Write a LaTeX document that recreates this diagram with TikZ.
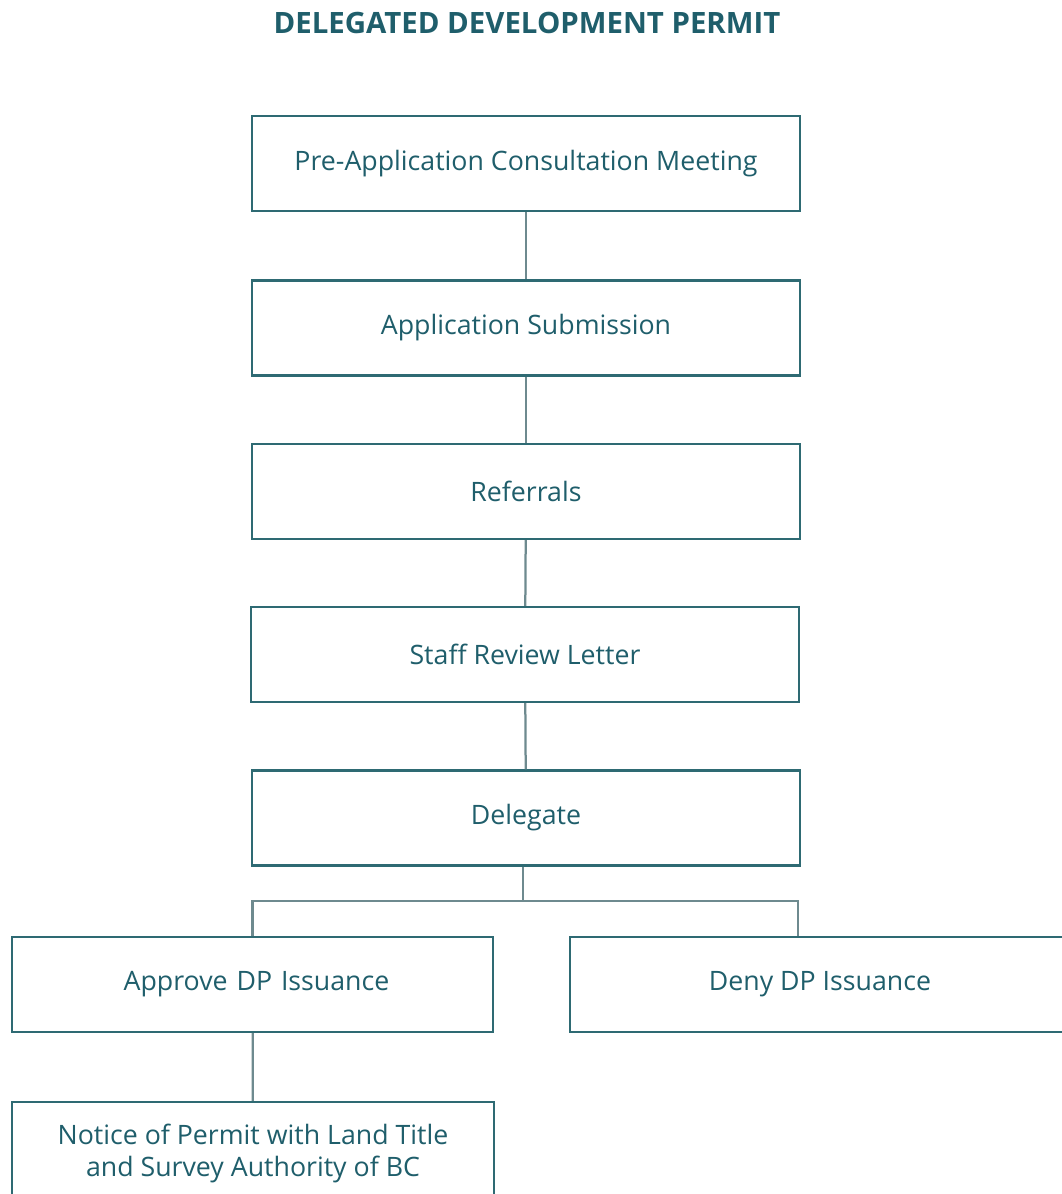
\documentclass[tikz,border=0pt]{standalone}
\usepackage{fontspec}
\setmainfont{Open Sans}
\usepackage{tikz}
\definecolor{permitteal}{HTML}{1F5E6B}
\definecolor{boxline}{HTML}{2E6A73}
\definecolor{linkgray}{HTML}{6E8A8F}
\tikzset{stepbox/.style={draw=boxline, line width=1.6pt, fill=white, text=permitteal,
    minimum width=13.7cm, minimum height=2.375cm, align=center, inner sep=0pt,
    font=\fontsize{19}{23}\selectfont}}
\tikzset{link/.style={draw=linkgray, line width=1.6pt}}

\begin{document}
\begin{tikzpicture}[x=0.025cm, y=-0.025cm]
      \clip (0, 0) rectangle (1062, 1194);
      \useasboundingbox (0, 0) rectangle (1062, 1194);

      \node[text=permitteal, font=\fontsize{20.9}{24}\selectfont\bfseries] (title) at (527, 23) {DELEGATED DEVELOPMENT PERMIT};

      \node[stepbox] (pre) at (526, 163.5) {Pre-Application Consultation Meeting};
      \node[stepbox] (sub) at (526, 328) {Application Submission};
      \node[stepbox] (ref) at (526, 491.5) {Referrals};
      \node[stepbox] (rev) at (525, 654.5) {Staff Review Letter};
      \node[stepbox] (del) at (526, 818) {Delegate};
      \node[stepbox, minimum width=12.025cm, text width=12.025cm] (app) at (252.5, 984.5) {\hspace*{0.2cm}Approve DP Issuance};
      \node[stepbox, minimum width=12.5cm] (deny) at (820, 984.5) {Deny DP Issuance};
      \node[stepbox, minimum width=12.05cm, minimum height=2.575cm] (note) at (253, 1153.5)
        {Notice of Permit with Land Title\\and Survey Authority of BC};

      \coordinate (split) at (523, 901);

      \draw[link] (pre) -- (sub);
      \draw[link] (sub) -- (ref);
      \draw[link] (ref) -- (rev);
      \draw[link] (rev) -- (del);
      \draw[link] (del.south -| split) -- (split);
      \draw[link] (split) -| (app.north);
      \draw[link] (split) -| (deny.north -| 798, 0);
      \draw[link] (app) -- (note);
    \end{tikzpicture}
\end{document}
